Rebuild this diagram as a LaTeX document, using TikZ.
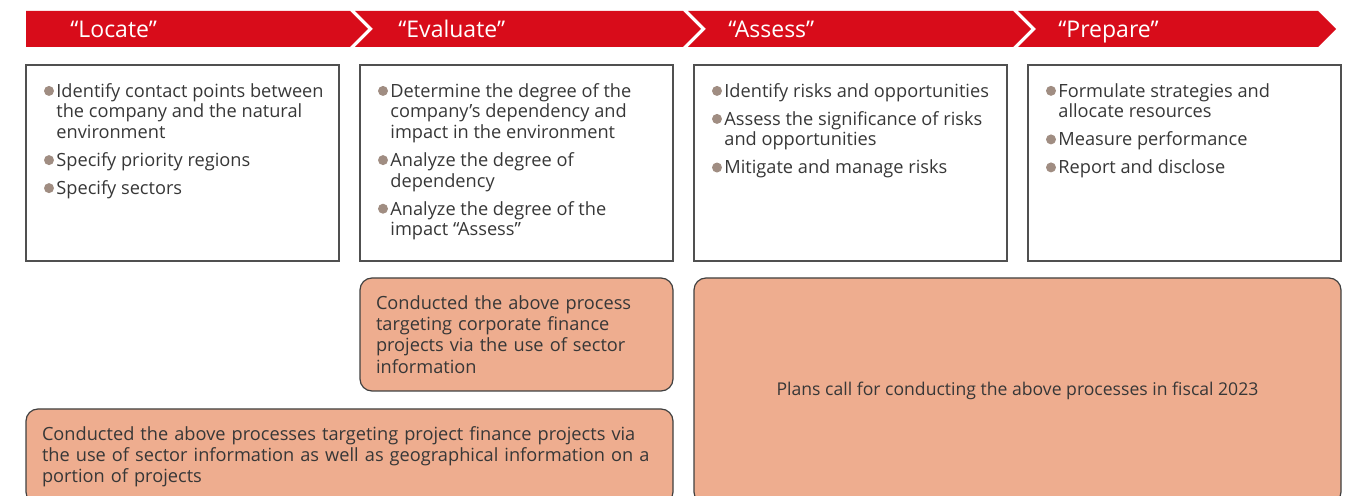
\documentclass[tikz,border=0pt]{standalone}
\usepackage{fontspec}
\setmainfont{Open Sans}
\usetikzlibrary{positioning}
\definecolor{bannerred}{RGB}{216, 12, 26}
\definecolor{salmon}{RGB}{238, 173, 143}
\definecolor{framegray}{RGB}{80, 80, 80}
\definecolor{dotgray}{RGB}{160, 141, 130}
\definecolor{inkgray}{RGB}{55, 55, 55}
\newcommand{\dotitem}{\llap{\tikz[baseline=-3.2pt]\fill[dotgray] (0,0) circle (2.5pt);\hspace{1.2pt}}}

\begin{document}
\begin{tikzpicture}[x=0.5pt, y=-0.5pt,
    stage/.style={text=white, font=\fontsize{11.5}{13}\selectfont, anchor=west, inner sep=0pt, text height=8.2pt, text depth=0pt},
    stepbox/.style={draw=framegray, line width=0.6pt, minimum width=156.5pt, minimum height=98pt, inner sep=0pt, outer sep=0pt},
    items/.style={anchor=north west, inner sep=0pt, align=left, text=inkgray, font=\fontsize{9.1}{10.3}\selectfont},
    note/.style={draw=framegray!80!black, fill=salmon, line width=0.6pt, rounded corners=6pt, text=inkgray, font=\fontsize{9.1}{10.6}\selectfont, inner xsep=8pt, outer sep=0pt, align=left}
]
    \clip (0,0) rectangle (1351,496);

    % banner
    \foreach \l/\r/\n in {26/350/0, 355/683/18, 688/1013/18, 1018/1318/18}
        \fill[bannerred] (\l,11) -- (\r,11) -- ({\r+18},29) -- (\r,47) -- (\l,47) -- ({\l+\n},29) -- cycle;
    \node[stage] (locate) at (70,29) {“Locate”};
    \node[stage] (evaluate) at (398,29) {“Evaluate”};
    \node[stage] (assess) at (728,29) {“Assess”};
    \node[stage] (prepare) at (1058,29) {“Prepare”};

    % step boxes
    \node[stepbox, anchor=north west] (locbox) at (26,65) {};
    \node[stepbox, right=10.5pt of locbox] (evabox) {};
    \node[stepbox, right=10.5pt of evabox] (assbox) {};
    \node[stepbox, right=10.5pt of assbox] (prepbox) {};

    \node[items] (locitems) at ([xshift=15pt, yshift=-9pt]locbox.north west)
        {\dotitem Identify contact points between\\the company and the natural\\environment\\[3.7pt]
         \dotitem Specify priority regions\\[3.7pt]
         \dotitem Specify sectors};
    \node[items] (evaitems) at ([xshift=15pt, yshift=-9pt]evabox.north west)
        {\dotitem Determine the degree of the\\company’s dependency and\\impact in the environment\\[3.7pt]
         \dotitem Analyze the degree of\\dependency\\[3.7pt]
         \dotitem Analyze the degree of the\\impact “Assess”};
    \node[items] (assitems) at ([xshift=15pt, yshift=-9pt]assbox.north west)
        {\dotitem Identify risks and opportunities\\[3.7pt]
         \dotitem Assess the significance of risks\\and opportunities\\[3.7pt]
         \dotitem Mitigate and manage risks};
    \node[items] (prepitems) at ([xshift=15pt, yshift=-9pt]prepbox.north west)
        {\dotitem Formulate strategies and\\allocate resources\\[3.7pt]
         \dotitem Measure performance\\[3.7pt]
         \dotitem Report and disclose};

    % notes
    \node[note, minimum width=156.5pt, minimum height=56.5pt, text width=140.5pt, below=8.5pt of evabox] (corpnote)
        {Conducted the above process\\targeting corporate finance\\projects via the use of sector\\information};
    \node[note, minimum width=323.5pt, minimum height=47.5pt, text width=307.5pt, below=9pt of corpnote.south east, anchor=north east] (projnote)
        {Conducted the above processes targeting project finance projects via\\the use of sector information as well as geographical information on a\\portion of projects};
    \node[note, minimum width=323.5pt, minimum height=113pt, align=center, font=\fontsize{8.8}{10.6}\selectfont, below=8.5pt of assbox.south west, anchor=north west] (plannote)
        {Plans call for conducting the above processes in fiscal 2023};
\end{tikzpicture}
\end{document}
